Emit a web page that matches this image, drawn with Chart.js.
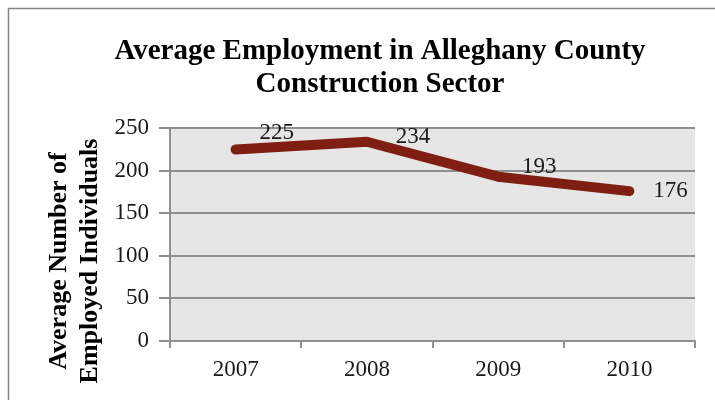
<!DOCTYPE html>
<html>
<head>
<meta charset="utf-8">
<script src="https://cdn.jsdelivr.net/npm/chart.js@4/dist/chart.umd.min.js"></script>
<style>
  html, body { margin: 0; padding: 0; background: #fff; }
  canvas { display: block; }
</style>
</head>
<body>
<canvas id="c" width="715" height="400"></canvas>
<script>
// data
var years = ['2007', '2008', '2009', '2010'];
var employment = [225, 234, 193, 176];
var yTicks = [0, 50, 100, 150, 200, 250];
var chartTitle = ['Average Employment in Alleghany County', 'Construction Sector'];
var yTitle = ['Average Number of', 'Employed Individuals'];

var SERIF = "'Liberation Serif', 'Times New Roman', serif";
var GRID = '#8f8f8f';

// outer frame + plot background
var backgroundPlugin = {
    id: 'background',
    beforeDraw: function (chart) {
        var ctx = chart.ctx, a = chart.chartArea;
        ctx.save();
        ctx.fillStyle = '#fff';
        ctx.fillRect(0, 0, chart.width, chart.height);
        ctx.strokeStyle = '#848484';
        ctx.lineWidth = 1.5;
        ctx.strokeRect(8.5, 8.5, chart.width + 20, chart.height + 20);
        ctx.fillStyle = '#e6e6e6';
        ctx.fillRect(a.left, a.top, a.right - a.left, a.bottom - a.top);
        ctx.restore();
    }
};

// rotated two-line axis title
var axisTitlePlugin = {
    id: 'axisTitle',
    afterDraw: function (chart, args, opts) {
        var ctx = chart.ctx;
        ctx.save();
        ctx.font = 'bold 26px ' + SERIF;
        ctx.fillStyle = '#000';
        ctx.textAlign = 'center';
        ctx.textBaseline = 'alphabetic';
        opts.lines.forEach(function (line, i) {
            ctx.save();
            ctx.translate(opts.baselines[i], opts.centerY);
            ctx.rotate(-Math.PI / 2);
            ctx.fillText(line, 0, 0);
            ctx.restore();
        });
        ctx.restore();
    }
};

// value labels next to the points
var valueLabelPlugin = {
    id: 'valueLabels',
    afterDatasetsDraw: function (chart, args, opts) {
        var ctx = chart.ctx;
        var meta = chart.getDatasetMeta(0);
        var values = chart.data.datasets[0].data;
        ctx.save();
        ctx.font = '23px ' + SERIF;
        ctx.fillStyle = '#1a1a1a';
        ctx.textAlign = 'center';
        ctx.textBaseline = 'middle';
        meta.data.forEach(function (pt, i) {
            var off = opts.offsets[i];
            ctx.fillText(String(values[i]), pt.x + off[0], pt.y + off[1]);
        });
        ctx.restore();
    }
};

new Chart(document.getElementById('c'), {
    type: 'line',
    data: {
        labels: years,
        datasets: [{
            data: employment,
            borderColor: '#7f1f12',
            borderWidth: 10,
            borderCapStyle: 'round',
            borderJoinStyle: 'round',
            pointRadius: 0,
            tension: 0,
            fill: false
        }]
    },
    options: {
        responsive: false,
        animation: false,
        devicePixelRatio: 1,
        layout: { padding: { left: 65, right: 20, top: 0, bottom: 0 } },
        plugins: {
            legend: { display: false },
            tooltip: { enabled: false },
            title: {
                display: true,
                text: chartTitle,
                color: '#000',
                font: { family: SERIF, size: 29, weight: 'bold', lineHeight: 1.14 },
                padding: { top: 35, bottom: 27 }
            },
            axisTitle: { lines: yTitle, baselines: [66, 97], centerY: 261 },
            valueLabels: { offsets: [[41, -16], [46, -5], [41, -10], [41, 0]] }
        },
        scales: {
            x: {
                type: 'category',
                offset: true,
                grid: {
                    offset: true,
                    drawOnChartArea: false,
                    color: GRID,
                    lineWidth: 2,
                    tickLength: 7
                },
                border: { color: GRID, width: 2 },
                ticks: {
                    color: '#1a1a1a',
                    padding: 8,
                    maxRotation: 0,
                    font: { family: SERIF, size: 23 }
                },
                afterFit: function (scale) { scale.height = 59; }
            },
            y: {
                min: 0,
                max: 250,
                afterBuildTicks: function (scale) {
                    scale.ticks = yTicks.map(function (v) { return { value: v }; });
                },
                grid: { color: GRID, lineWidth: 2, tickLength: 11 },
                border: { color: GRID, width: 2 },
                ticks: {
                    color: '#1a1a1a',
                    padding: 10,
                    font: { family: SERIF, size: 23 }
                },
                afterFit: function (scale) { scale.width = 105; }
            }
        }
    },
    plugins: [backgroundPlugin, axisTitlePlugin, valueLabelPlugin]
});
</script>
</body>
</html>
